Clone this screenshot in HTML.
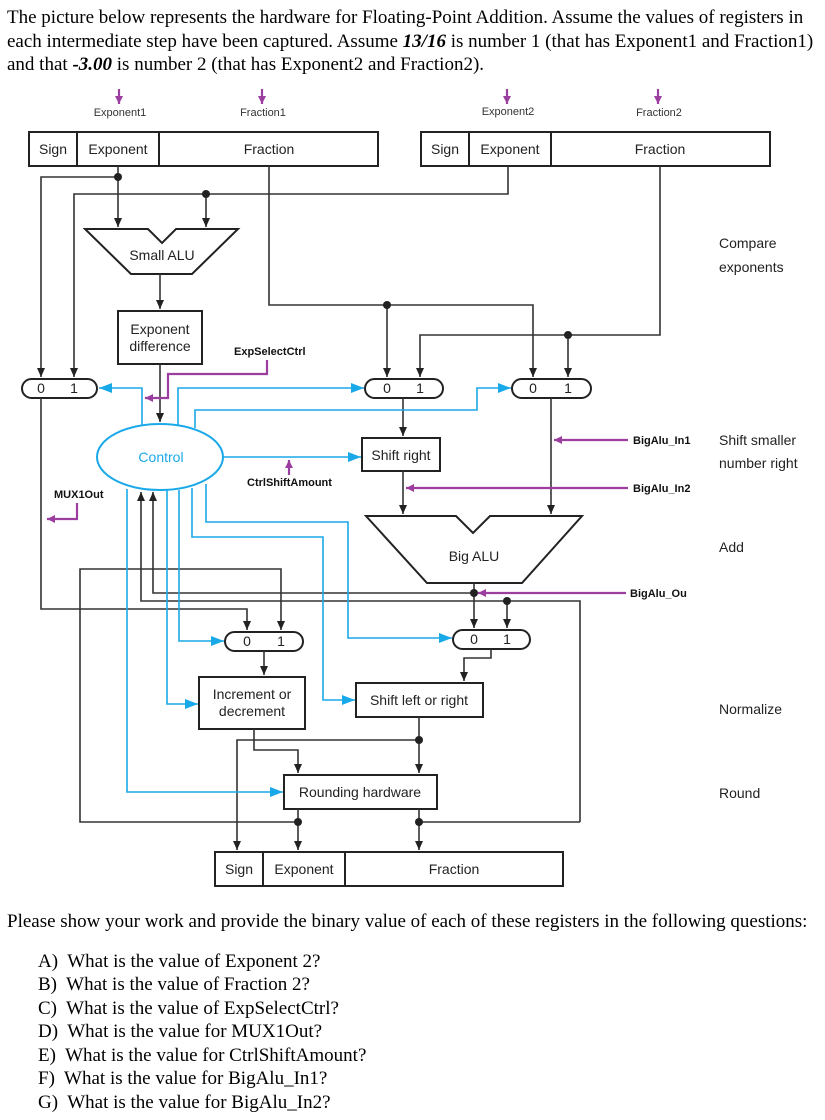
<!DOCTYPE html>
<html><head><meta charset="utf-8"><style>
body{margin:0;background:#fff;width:825px;height:1120px;overflow:hidden;position:relative;font-family:"Liberation Serif",serif;color:#000}
.t{position:absolute;left:7px;font-size:19px;white-space:nowrap;line-height:23px}
svg{position:absolute;left:0;top:0}
</style></head><body>
<div class="t" style="top:6px">The picture below represents the hardware for Floating-Point Addition. Assume the values of registers in</div>
<div class="t" style="top:30px">each intermediate step have been captured. Assume <b><i>13/16</i></b> is number 1 (that has Exponent1 and Fraction1)</div>
<div class="t" style="top:53px">and that <b><i>-3.00</i></b> is number 2 (that has Exponent2 and Fraction2).</div>
<div class="t" style="top:910px">Please show your work and provide the binary value of each of these registers in the following questions:</div>
<div class="t" style="top:950px;left:38px">A)&nbsp; What is the value of Exponent 2?</div>
<div class="t" style="top:973px;left:38px">B)&nbsp; What is the value of Fraction 2?</div>
<div class="t" style="top:997px;left:38px">C)&nbsp; What is the value of ExpSelectCtrl?</div>
<div class="t" style="top:1020px;left:38px">D)&nbsp; What is the value for MUX1Out?</div>
<div class="t" style="top:1044px;left:38px">E)&nbsp; What is the value for CtrlShiftAmount?</div>
<div class="t" style="top:1067px;left:38px">F)&nbsp; What is the value for BigAlu_In1?</div>
<div class="t" style="top:1091px;left:38px">G)&nbsp; What is the value for BigAlu_In2?</div>
<svg width="825" height="1120" viewBox="0 0 825 1120">
<defs>
<marker id="ak" markerUnits="userSpaceOnUse" markerWidth="10" markerHeight="10" refX="9" refY="4" orient="auto"><path d="M0,0 L9,4 L0,8 z" fill="#222"/></marker>
<marker id="ac" markerUnits="userSpaceOnUse" markerWidth="14" markerHeight="12" refX="13" refY="5" orient="auto"><path d="M0,0 L13,5 L0,10 z" fill="#1aa9e8"/></marker>
<marker id="ap" markerUnits="userSpaceOnUse" markerWidth="10" markerHeight="10" refX="8" refY="4" orient="auto"><path d="M0,0 L8,4 L0,8 z" fill="#9b3ea0"/></marker>
</defs>
<g font-family="Liberation Sans, sans-serif" font-size="14" fill="#222">
<g fill="none" stroke="#222" stroke-width="2">
<rect x="29" y="132" width="349" height="34"/><line x1="77" y1="132" x2="77" y2="166"/><line x1="159" y1="132" x2="159" y2="166"/>
<rect x="421" y="132" width="349" height="34"/><line x1="469" y1="132" x2="469" y2="166"/><line x1="551" y1="132" x2="551" y2="166"/>
<rect x="215" y="852" width="348" height="34"/><line x1="263" y1="852" x2="263" y2="886"/><line x1="345" y1="852" x2="345" y2="886"/>
</g>
<text x="53" y="154" text-anchor="middle">Sign</text><text x="118" y="154" text-anchor="middle">Exponent</text><text x="269" y="154" text-anchor="middle">Fraction</text>
<text x="445" y="154" text-anchor="middle">Sign</text><text x="510" y="154" text-anchor="middle">Exponent</text><text x="660" y="154" text-anchor="middle">Fraction</text>
<text x="239" y="874" text-anchor="middle">Sign</text><text x="304" y="874" text-anchor="middle">Exponent</text><text x="454" y="874" text-anchor="middle">Fraction</text>
<text x="719" y="248">Compare</text><text x="719" y="272">exponents</text>
<text x="719" y="445">Shift smaller</text><text x="719" y="468">number right</text>
<text x="719" y="552">Add</text><text x="719" y="714">Normalize</text><text x="719" y="798">Round</text>
<g fill="none" stroke="#222" stroke-width="2">
<path d="M85,229 L148,229 L162,243 L176,229 L238,229 L192,274 L131,274 Z"/>
<path d="M366,516 L456,516 L473,533 L490,516 L582,516 L522,583 L427,583 Z"/>
<rect x="118" y="311" width="84" height="53"/>
<rect x="362" y="438" width="78" height="33"/>
<rect x="199" y="677" width="106" height="52"/>
<rect x="356" y="683" width="127" height="34"/>
<rect x="284" y="775" width="153" height="34"/>
<rect x="22" y="379" width="75" height="19" rx="9.5"/>
<rect x="365" y="379" width="78" height="19" rx="9.5"/>
<rect x="512" y="379" width="79" height="19" rx="9.5"/>
<rect x="225" y="632" width="78" height="19" rx="9.5"/>
<rect x="453" y="630" width="77" height="19" rx="9.5"/>
</g>
<text x="162" y="260" text-anchor="middle">Small ALU</text>
<text x="474" y="561" text-anchor="middle">Big ALU</text>
<text x="160" y="334" text-anchor="middle">Exponent</text><text x="160" y="351" text-anchor="middle">difference</text>
<text x="401" y="460" text-anchor="middle">Shift right</text>
<text x="252" y="699" text-anchor="middle">Increment or</text><text x="252" y="716" text-anchor="middle">decrement</text>
<text x="419" y="705" text-anchor="middle">Shift left or right</text>
<text x="360" y="797" text-anchor="middle">Rounding hardware</text>
<g text-anchor="middle"><text x="41" y="393">0</text><text x="74" y="393">1</text><text x="387" y="393">0</text><text x="420" y="393">1</text><text x="533" y="393">0</text><text x="568" y="393">1</text><text x="247" y="646">0</text><text x="281" y="646">1</text><text x="474" y="644">0</text><text x="507" y="644">1</text></g>
<g fill="none" stroke="#333" stroke-width="1.6">
<path d="M118,166 V227" marker-end="url(#ak)"/>
<path d="M118,177 H41 V377" marker-end="url(#ak)"/>
<path d="M508,166 V194 H74 V377" marker-end="url(#ak)"/>
<path d="M206,194 V227" marker-end="url(#ak)"/>
<path d="M160,274 V309" marker-end="url(#ak)"/>
<path d="M269,166 V305 H533 V377" marker-end="url(#ak)"/>
<path d="M387,305 V377" marker-end="url(#ak)"/>
<path d="M660,166 V335 H420 V377" marker-end="url(#ak)"/>
<path d="M568,335 V377" marker-end="url(#ak)"/>
<path d="M160,364 V422" marker-end="url(#ak)"/>
<path d="M403,398 V436" marker-end="url(#ak)"/>
<path d="M403,471 V514" marker-end="url(#ak)"/>
<path d="M551,398 V514" marker-end="url(#ak)"/>
<path d="M474,583 V628" marker-end="url(#ak)"/>
<path d="M474,593 H153 V492" marker-end="url(#ak)"/>
<path d="M580,822 V601 H141 V492" marker-end="url(#ak)"/>
<path d="M507,601 V628" marker-end="url(#ak)"/>
<path d="M41,398 V609 H247 V630" marker-end="url(#ak)"/>
<path d="M298,822 H80 V569 H281 V630" marker-end="url(#ak)"/>
<path d="M264,651 V675" marker-end="url(#ak)"/>
<path d="M491,649 V658 H464 V681" marker-end="url(#ak)"/>
<path d="M419,717 V773" marker-end="url(#ak)"/>
<path d="M419,740 H237 V850" marker-end="url(#ak)"/>
<path d="M254,729 V750 H298 V773" marker-end="url(#ak)"/>
<path d="M298,809 V850" marker-end="url(#ak)"/>
<path d="M419,809 V850" marker-end="url(#ak)"/>
<path d="M419,822 H580"/>
</g>
<g fill="#222"><circle cx="118" cy="177" r="4"/><circle cx="206" cy="194" r="4"/><circle cx="387" cy="305" r="4"/><circle cx="568" cy="335" r="4"/><circle cx="474" cy="593" r="4"/><circle cx="507" cy="601" r="4"/><circle cx="419" cy="740" r="4"/><circle cx="298" cy="822" r="4"/><circle cx="419" cy="822" r="4"/></g>
<ellipse cx="160" cy="457" rx="63" ry="33" fill="none" stroke="#1aa9e8" stroke-width="2"/>
<text x="161" y="462" text-anchor="middle" fill="#1aa9e8">Control</text>
<g fill="none" stroke="#1aa9e8" stroke-width="1.6">
<path d="M142,425 V388 H99" marker-end="url(#ac)"/>
<path d="M178,425 V388 H364" marker-end="url(#ac)"/>
<path d="M195,428 V410 H477 V388 H511" marker-end="url(#ac)"/>
<path d="M223,457 H361" marker-end="url(#ac)"/>
<path d="M127,489 V792 H283" marker-end="url(#ac)"/>
<path d="M167,490 V704 H198" marker-end="url(#ac)"/>
<path d="M179,490 V641 H224" marker-end="url(#ac)"/>
<path d="M192,488 V537 H323 V700 H355" marker-end="url(#ac)"/>
<path d="M206,484 V522 H348 V638 H452" marker-end="url(#ac)"/>
</g>
<g fill="none" stroke="#9b3ea0" stroke-width="2.2">
<path d="M119,89 V104" marker-end="url(#ap)"/>
<path d="M262,89 V104" marker-end="url(#ap)"/>
<path d="M507,89 V104" marker-end="url(#ap)"/>
<path d="M658,89 V104" marker-end="url(#ap)"/>
<path d="M267,360 V374 H168 V398 H145" marker-end="url(#ap)"/>
<path d="M289,475 V460" marker-end="url(#ap)"/>
<path d="M628,440 H554" marker-end="url(#ap)"/>
<path d="M628,488 H406" marker-end="url(#ap)"/>
<path d="M626,593 H478" marker-end="url(#ap)"/>
<path d="M77,503 V519 H47" marker-end="url(#ap)"/>
</g>
<g font-size="11" font-weight="bold" fill="#111">
<text x="633" y="444">BigAlu_In1</text><text x="633" y="492">BigAlu_In2</text><text x="630" y="597">BigAlu_Ou</text>
<text x="234" y="355">ExpSelectCtrl</text><text x="247" y="486">CtrlShiftAmount</text><text x="54" y="498">MUX1Out</text>
</g>
<g font-size="11" fill="#333" text-anchor="middle">
<text x="120" y="116">Exponent1</text><text x="263" y="116">Fraction1</text><text x="508" y="115">Exponent2</text><text x="659" y="116">Fraction2</text>
</g>
</g>
</svg>
</body></html>
